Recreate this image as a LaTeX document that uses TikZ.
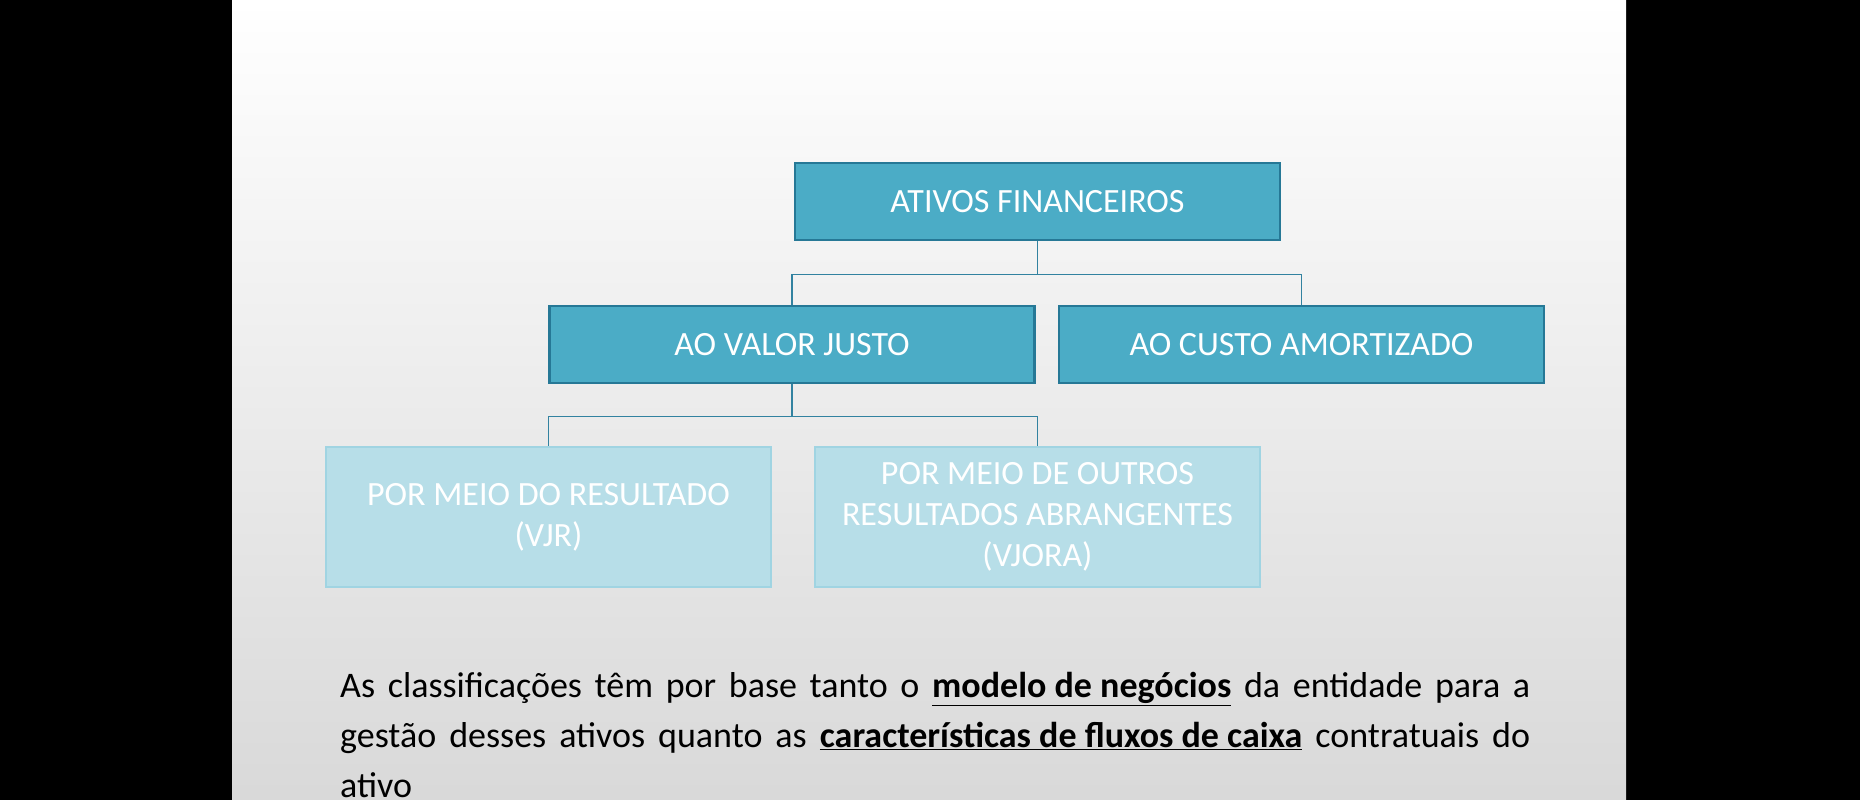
\documentclass[tikz,border=0pt]{standalone}
\usepackage{fontspec}
\setmainfont{Carlito}
\begin{document}
\begin{tikzpicture}[x=1pt,y=-1pt,
  dark/.style={fill={rgb,255:red,75;green,172;blue,198},draw={rgb,255:red,38;green,120;blue,150},line width=2.5pt,minimum width=#1,minimum height=77pt,inner sep=0pt,font=\fontsize{34}{40}\selectfont,text=white},
  light/.style={fill={rgb,255:red,183;green,222;blue,232},draw={rgb,255:red,160;green,212;blue,226},line width=2.5pt,minimum width=445pt,minimum height=140pt,inner sep=0pt,align=center,font=\fontsize{34}{41}\selectfont,text=white},
  conn/.style={draw={rgb,255:red,50;green,130;blue,160},line width=1.5pt}]
\useasboundingbox (0,0) rectangle (1860,800);
\fill[black] (0,0) rectangle (1860,800);
\shade[top color=white,bottom color=black!15] (232,0) rectangle (1626,800);
\node[dark=485pt] (a) at (1037.5,201.5) {ATIVOS FINANCEIROS};
\node[dark=485pt] (b) at (792,344.5) {AO VALOR JUSTO};
\node[dark=485pt] (c) at (1301.5,344.5) {AO CUSTO AMORTIZADO};
\node[light] (d) at (548.5,517) {POR MEIO DO RESULTADO\\(VJR)};
\node[light] (e) at (1037.5,517) {POR MEIO DE OUTROS\\RESULTADOS ABRANGENTES\\(VJORA)};
\draw[conn] (a.south) -- ++(0,33) -| (b.north);
\draw[conn] (a.south) ++(0,33) -| (c.north);
\draw[conn] (b.south) -- ++(0,32) -| (d.north);
\draw[conn] (b.south) ++(0,32) -| (e.north);
\node[text width=1190pt,align=justify,anchor=north west,inner sep=0pt,font=\fontsize{36}{50}\selectfont] (t) at (340,672)
{As classificações têm por base tanto o \textbf{\underline{modelo de negócios}} da entidade para a gestão desses ativos quanto as \textbf{\underline{características de fluxos de caixa}} contratuais do ativo};
\end{tikzpicture}
\end{document}
